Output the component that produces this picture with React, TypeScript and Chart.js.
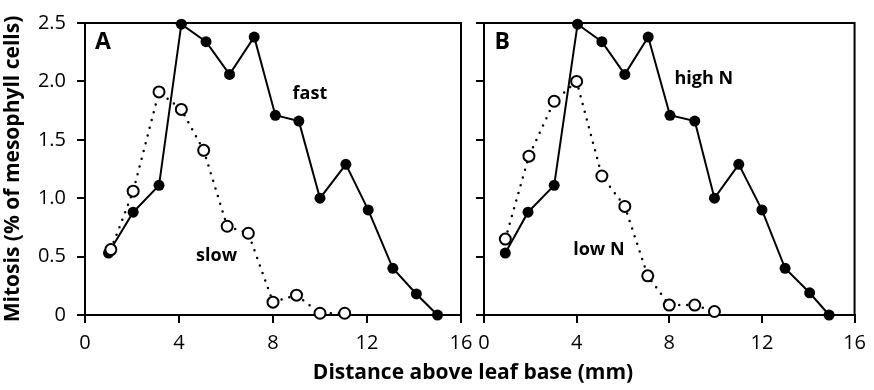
import React, { useEffect, useRef } from 'react';
import { Chart, registerables } from 'chart.js';

Chart.register(...registerables);

// ---- data ----
const xTickValues = [0, 4, 8, 12, 16];
const yTickLabels = ['0', '0.5', '1.0', '1.5', '2.0', '2.5'];

// Panel A: fast vs slow growth
const fastX = [1.0, 2.05, 3.15, 4.1, 5.15, 6.15, 7.2, 8.1, 9.1, 10.0, 11.1, 12.05, 13.1, 14.1, 15.0];
const fastY = [0.53, 0.88, 1.11, 2.49, 2.34, 2.06, 2.38, 1.71, 1.66, 1.0, 1.29, 0.9, 0.4, 0.18, 0.0];
const slowX = [1.1, 2.05, 3.15, 4.1, 5.05, 6.05, 6.95, 8.0, 9.0, 10.0, 11.05];
const slowY = [0.56, 1.06, 1.91, 1.76, 1.41, 0.76, 0.7, 0.11, 0.17, 0.015, 0.015];

// Panel B: high N vs low N
const highNX = [0.92, 1.9, 3.03, 4.04, 5.09, 6.08, 7.09, 8.03, 9.1, 9.95, 11.0, 12.0, 13.0, 14.06, 14.9];
const highNY = [0.53, 0.88, 1.11, 2.49, 2.34, 2.06, 2.38, 1.71, 1.66, 1.0, 1.29, 0.9, 0.4, 0.19, 0.0];
const lowNX = [0.92, 1.94, 3.03, 4.0, 5.09, 6.08, 7.07, 8.0, 9.1, 9.95];
const lowNY = [0.65, 1.36, 1.83, 2.0, 1.19, 0.93, 0.335, 0.085, 0.085, 0.03];

const yTitle = 'Mitosis (% of mesophyll cells)';
const xTitle = 'Distance above leaf base (mm)';

const FONT = "'Open Sans', 'DejaVu Sans', sans-serif";

type Note = { text: string; x: number; y: number; size: number; align: CanvasTextAlign };

const zip = (xs: number[], ys: number[]) => xs.map((x, i) => ({ x, y: ys[i] }));

function makeConfig(p: {
  filledX: number[]; filledY: number[]; openX: number[]; openY: number[];
  notes: Note[]; showYLabels: boolean; yWidth: number; rightPad: number; drawXTitle: boolean;
}): any {
  const framePlugin = {
    id: 'frame',
    beforeDatasetsDraw(chart: any) {
      const { ctx, chartArea: a } = chart;
      ctx.save();
      ctx.strokeStyle = '#000';
      ctx.lineWidth = 2;
      ctx.strokeRect(a.left, a.top, a.right - a.left, a.bottom - a.top);
      ctx.restore();
    },
  };
  const notesPlugin = {
    id: 'notes',
    afterDatasetsDraw(chart: any) {
      const { ctx } = chart;
      const xs = chart.scales.x;
      const ys = chart.scales.y;
      ctx.save();
      ctx.fillStyle = '#000';
      ctx.textBaseline = 'middle';
      for (const n of p.notes) {
        ctx.font = `bold ${n.size}px ${FONT}`;
        ctx.textAlign = n.align;
        ctx.fillText(n.text, xs.getPixelForValue(n.x), ys.getPixelForValue(n.y));
      }
      if (p.drawXTitle) {
        ctx.font = `bold 21px ${FONT}`;
        ctx.textAlign = 'center';
        ctx.fillText(xTitle, 473, 373);
      }
      ctx.restore();
    },
  };

  return {
    type: 'line',
    data: {
      datasets: [
        {
          data: zip(p.openX, p.openY),
          borderColor: '#000',
          borderWidth: 2.5,
          borderDash: [0, 8],
          borderCapStyle: 'round',
          pointRadius: 5.5,
          pointBorderWidth: 2,
          pointBackgroundColor: '#fff',
          pointBorderColor: '#000',
          fill: false,
          tension: 0,
          clip: false,
        },
        {
          data: zip(p.filledX, p.filledY),
          borderColor: '#000',
          borderWidth: 2,
          pointRadius: 5.5,
          pointBorderWidth: 0,
          pointBackgroundColor: '#000',
          pointBorderColor: '#000',
          fill: false,
          tension: 0,
          clip: false,
        },
      ],
    },
    options: {
      animation: false,
      responsive: false,
      maintainAspectRatio: false,
      events: [],
      layout: { padding: { top: 14, right: p.rightPad, left: 0, bottom: 0 } },
      plugins: { legend: { display: false }, tooltip: { enabled: false }, title: { display: false } },
      scales: {
        x: {
          type: 'linear',
          min: 0,
          max: 16,
          afterBuildTicks(scale: any) {
            scale.ticks = xTickValues.map((v) => ({ value: v }));
          },
          afterFit(scale: any) {
            scale.height = 75;
          },
          border: { display: true, color: '#000', width: 2 },
          grid: { drawOnChartArea: false, drawTicks: true, tickLength: 8, color: '#000', lineWidth: 2 },
          ticks: {
            color: '#000',
            padding: 8,
            maxRotation: 0,
            font: { family: FONT, size: 20 },
            callback: (v: any) => String(v),
          },
        },
        y: {
          type: 'linear',
          min: 0,
          max: 2.5,
          afterBuildTicks(scale: any) {
            scale.ticks = yTickLabels.map((_, i) => ({ value: i * 0.5 }));
          },
          afterFit(scale: any) {
            scale.width = p.yWidth;
          },
          border: { display: true, color: '#000', width: 2 },
          grid: { drawOnChartArea: false, drawTicks: true, tickLength: 8, color: '#000', lineWidth: 2 },
          ticks: {
            color: p.showYLabels ? '#000' : 'rgba(0,0,0,0)',
            padding: 11,
            font: { family: FONT, size: 20 },
            callback: (v: any) => yTickLabels[Math.round(v / 0.5)],
          },
          title: {
            display: p.showYLabels,
            text: yTitle,
            color: '#000',
            font: { family: FONT, size: 21, weight: 'bold' },
            padding: { top: 0, bottom: 0 },
          },
        },
      },
    },
    plugins: [framePlugin, notesPlugin],
  };
}

function Panel(props: { left: number; width: number; cfg: any }) {
  const ref = useRef<HTMLCanvasElement | null>(null);
  useEffect(() => {
    if (!ref.current) return;
    const chart = new Chart(ref.current, props.cfg);
    return () => chart.destroy();
  }, []);
  return (
    <canvas
      ref={ref}
      width={props.width}
      height={390}
      style={{ position: 'absolute', left: props.left, top: 0, width: props.width, height: 390 }}
    />
  );
}

export default function App() {
  const cfgA = makeConfig({
    filledX: fastX, filledY: fastY, openX: slowX, openY: slowY,
    notes: [
      { text: 'A', x: 0.43, y: 2.33, size: 23, align: 'left' },
      { text: 'fast', x: 9.57, y: 1.89, size: 18, align: 'center' },
      { text: 'slow', x: 5.6, y: 0.51, size: 18, align: 'center' },
    ],
    showYLabels: true, yWidth: 85, rightPad: 874 - 461, drawXTitle: true,
  });
  const cfgB = makeConfig({
    filledX: highNX, filledY: highNY, openX: lowNX, openY: lowNY,
    notes: [
      { text: 'B', x: 0.45, y: 2.33, size: 23, align: 'left' },
      { text: 'high N', x: 9.49, y: 2.02, size: 18, align: 'center' },
      { text: 'low N', x: 4.96, y: 0.56, size: 18, align: 'center' },
    ],
    showYLabels: false, yWidth: 44, rightPad: 13, drawXTitle: false,
  });
  return (
    <div style={{ position: 'absolute', left: 0, top: 0, width: 874, height: 390, background: '#fff' }}>
      <Panel left={0} width={874} cfg={cfgA} />
      <Panel left={440} width={434} cfg={cfgB} />
    </div>
  );
}
